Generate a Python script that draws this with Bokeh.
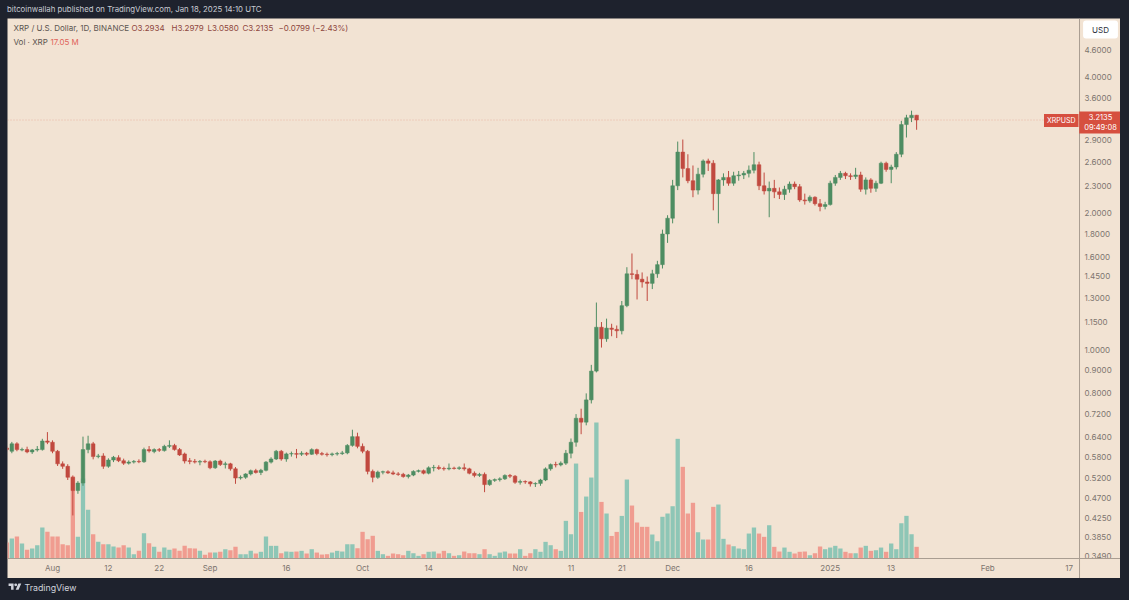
import pandas as pd
from bokeh.plotting import figure
from bokeh.models import (Range1d, FixedTicker, NumeralTickFormatter, Label, Span,
                          Div, Spacer, ColumnDataSource, LinearScale)
from bokeh.layouts import column, row
from bokeh.embed import file_html
from bokeh.resources import INLINE

# ---------------- data (XRP / USD daily) ----------------
dates = pd.date_range("2024-07-23", "2025-01-18", freq="D")

open_ = [
    # Jul 23-31
    0.606, 0.596, 0.619, 0.600, 0.601, 0.594, 0.600, 0.601, 0.628,
    # Aug
    0.624, 0.596, 0.559, 0.552, 0.522, 0.488, 0.507, 0.601, 0.619, 0.580,
    0.582, 0.552, 0.570, 0.577, 0.568, 0.561, 0.564, 0.566, 0.565, 0.601,
    0.595, 0.601, 0.598, 0.611, 0.614, 0.601, 0.588, 0.568, 0.566, 0.564, 0.566,
    # Sep
    0.565, 0.548, 0.567, 0.557, 0.559, 0.545, 0.520, 0.522, 0.531, 0.540,
    0.535, 0.541, 0.564, 0.573, 0.596, 0.573, 0.588, 0.589, 0.587, 0.590,
    0.587, 0.601, 0.589, 0.587, 0.586, 0.588, 0.589, 0.591, 0.614, 0.642,
    # Oct
    0.611, 0.596, 0.538, 0.522, 0.536, 0.537, 0.534, 0.531, 0.530, 0.524,
    0.528, 0.538, 0.540, 0.533, 0.548, 0.549, 0.546, 0.545, 0.547, 0.546,
    0.548, 0.545, 0.533, 0.527, 0.530, 0.503, 0.514, 0.516, 0.518, 0.527, 0.525,
    # Nov
    0.509, 0.511, 0.510, 0.505, 0.506, 0.515, 0.545, 0.557, 0.556, 0.561,
    0.590, 0.624, 0.705, 0.691, 0.774, 0.896, 1.120, 1.056, 1.115, 1.108,
    1.100, 1.250, 1.470, 1.465, 1.430, 1.410, 1.400, 1.470, 1.540, 1.800,
    # Dec
    1.950, 2.300, 2.730, 2.510, 2.360, 2.250, 2.440, 2.610, 2.580, 2.210,
    2.370, 2.400, 2.330, 2.420, 2.430, 2.450, 2.490, 2.560, 2.300, 2.240,
    2.270, 2.230, 2.200, 2.260, 2.320, 2.290, 2.140, 2.130, 2.170, 2.100, 2.070,
    # Jan 1-18
    2.090, 2.330, 2.400, 2.450, 2.420, 2.410, 2.430, 2.260, 2.370, 2.270,
    2.330, 2.580, 2.500, 2.530, 2.700, 3.140, 3.250, 3.2934,
]

high = [
    0.612, 0.625, 0.624, 0.607, 0.610, 0.603, 0.612, 0.635, 0.657,
    0.630, 0.600, 0.566, 0.558, 0.527, 0.512, 0.642, 0.645, 0.625, 0.588,
    0.590, 0.575, 0.582, 0.584, 0.574, 0.569, 0.570, 0.572, 0.607, 0.612,
    0.605, 0.606, 0.616, 0.630, 0.619, 0.606, 0.592, 0.576, 0.573, 0.570, 0.571,
    0.569, 0.570, 0.571, 0.565, 0.562, 0.550, 0.527, 0.533, 0.543, 0.545,
    0.545, 0.567, 0.578, 0.600, 0.600, 0.592, 0.595, 0.603, 0.596, 0.594,
    0.605, 0.604, 0.594, 0.592, 0.592, 0.594, 0.597, 0.618, 0.665, 0.655,
    0.620, 0.600, 0.543, 0.540, 0.540, 0.541, 0.540, 0.536, 0.534, 0.531,
    0.541, 0.543, 0.543, 0.552, 0.556, 0.555, 0.551, 0.560, 0.551, 0.552,
    0.560, 0.548, 0.538, 0.534, 0.535, 0.517, 0.519, 0.522, 0.530, 0.531, 0.528,
    0.516, 0.514, 0.512, 0.509, 0.518, 0.549, 0.560, 0.565, 0.566, 0.600,
    0.636, 0.720, 0.740, 0.800, 0.925, 1.270, 1.150, 1.170, 1.140, 1.130,
    1.280, 1.520, 1.630, 1.500, 1.480, 1.450, 1.500, 1.570, 1.840, 1.980,
    2.370, 2.880, 2.910, 2.700, 2.550, 2.520, 2.630, 2.640, 2.620, 2.380,
    2.450, 2.480, 2.470, 2.480, 2.480, 2.550, 2.730, 2.600, 2.460, 2.350,
    2.370, 2.280, 2.300, 2.350, 2.350, 2.320, 2.210, 2.190, 2.180, 2.150, 2.120,
    2.360, 2.430, 2.480, 2.470, 2.450, 2.520, 2.470, 2.400, 2.390, 2.360,
    2.600, 2.600, 2.560, 2.730, 3.200, 3.300, 3.370, 3.2979,
]

low = [
    0.596, 0.590, 0.596, 0.596, 0.590, 0.588, 0.595, 0.598, 0.618,
    0.590, 0.553, 0.545, 0.515, 0.430, 0.480, 0.500, 0.590, 0.572, 0.575,
    0.545, 0.548, 0.564, 0.564, 0.556, 0.557, 0.560, 0.561, 0.562, 0.592,
    0.590, 0.594, 0.595, 0.606, 0.598, 0.582, 0.560, 0.558, 0.560, 0.555, 0.561,
    0.544, 0.545, 0.553, 0.546, 0.540, 0.505, 0.516, 0.518, 0.527, 0.532,
    0.528, 0.538, 0.560, 0.570, 0.568, 0.565, 0.580, 0.575, 0.582, 0.582,
    0.585, 0.584, 0.583, 0.580, 0.581, 0.583, 0.585, 0.587, 0.610, 0.605,
    0.590, 0.530, 0.509, 0.518, 0.530, 0.531, 0.528, 0.526, 0.521, 0.519,
    0.525, 0.535, 0.530, 0.530, 0.538, 0.542, 0.540, 0.541, 0.543, 0.542,
    0.540, 0.530, 0.522, 0.523, 0.484, 0.500, 0.510, 0.511, 0.515, 0.520, 0.505,
    0.503, 0.505, 0.498, 0.497, 0.500, 0.512, 0.540, 0.549, 0.552, 0.556,
    0.575, 0.610, 0.650, 0.680, 0.760, 0.890, 1.010, 1.040, 1.070, 1.060,
    1.080, 1.240, 1.430, 1.290, 1.370, 1.280, 1.360, 1.440, 1.510, 1.720,
    1.900, 2.250, 2.400, 2.330, 2.170, 2.200, 2.400, 2.480, 2.030, 1.900,
    2.300, 2.300, 2.300, 2.360, 2.380, 2.400, 2.450, 2.250, 2.200, 1.960,
    2.160, 2.150, 2.140, 2.220, 2.260, 2.120, 2.090, 2.110, 2.080, 2.020, 2.040,
    2.080, 2.300, 2.370, 2.380, 2.370, 2.380, 2.230, 2.200, 2.220, 2.230,
    2.320, 2.470, 2.330, 2.500, 2.660, 2.940, 3.180, 3.0580,
]

close = [
    0.601, 0.619, 0.601, 0.601, 0.594, 0.600, 0.602, 0.628, 0.624,
    0.596, 0.559, 0.552, 0.522, 0.488, 0.507, 0.601, 0.619, 0.580, 0.582,
    0.552, 0.570, 0.578, 0.568, 0.561, 0.564, 0.566, 0.565, 0.601, 0.597,
    0.601, 0.599, 0.611, 0.614, 0.601, 0.585, 0.567, 0.566, 0.564, 0.566, 0.565,
    0.548, 0.567, 0.557, 0.559, 0.545, 0.520, 0.522, 0.531, 0.540, 0.535,
    0.541, 0.564, 0.573, 0.596, 0.573, 0.588, 0.589, 0.587, 0.590, 0.587,
    0.601, 0.589, 0.587, 0.586, 0.588, 0.589, 0.591, 0.614, 0.642, 0.611,
    0.596, 0.538, 0.522, 0.536, 0.537, 0.534, 0.531, 0.530, 0.524, 0.528,
    0.538, 0.540, 0.533, 0.548, 0.549, 0.546, 0.545, 0.547, 0.546, 0.548,
    0.545, 0.533, 0.527, 0.530, 0.503, 0.514, 0.516, 0.518, 0.527, 0.525, 0.509,
    0.511, 0.510, 0.505, 0.506, 0.515, 0.545, 0.557, 0.556, 0.561, 0.590,
    0.624, 0.705, 0.691, 0.774, 0.896, 1.120, 1.056, 1.115, 1.108, 1.100,
    1.250, 1.470, 1.465, 1.430, 1.410, 1.400, 1.470, 1.540, 1.800, 1.950,
    2.300, 2.730, 2.510, 2.360, 2.250, 2.440, 2.610, 2.580, 2.210, 2.370,
    2.400, 2.330, 2.420, 2.430, 2.450, 2.490, 2.560, 2.300, 2.240, 2.270,
    2.230, 2.200, 2.260, 2.320, 2.290, 2.140, 2.130, 2.170, 2.100, 2.070, 2.090,
    2.330, 2.400, 2.450, 2.420, 2.410, 2.430, 2.260, 2.370, 2.270, 2.330,
    2.580, 2.500, 2.530, 2.700, 3.140, 3.250, 3.2934, 3.2135,
]

volume_m = [
    23.3, 29.1, 32.1, 21.9, 12.7, 14.6, 19.4, 45.2, 38.9,
    32.1, 32.1, 20.8, 19.4, 119.5, 31.6, 116.6, 71.0, 35.4, 24.3,
    20.8, 20.8, 17.5, 16.0, 19.4, 16.0, 6.3, 11.2, 36.9, 22.3,
    17.0, 9.8, 16.0, 12.7, 14.6, 11.2, 18.5, 15.0, 14.6, 11.2, 5.4,
    8.7, 8.7, 9.8, 13.6, 12.1, 17.0, 6.3, 6.3, 11.2, 7.3,
    9.8, 32.1, 18.5, 18.5, 7.7, 10.2, 9.8, 10.2, 11.2, 7.3,
    13.6, 8.7, 5.8, 6.3, 8.7, 11.2, 10.2, 20.8, 20.8, 15.0,
    38.9, 28.1, 33.1, 11.2, 6.3, 3.9, 7.3, 6.3, 4.8, 11.2,
    7.7, 3.9, 6.3, 9.8, 10.2, 7.3, 11.2, 7.7, 3.9, 4.8,
    10.2, 7.7, 7.7, 6.3, 13.6, 6.3, 3.9, 8.7, 10.2, 7.3, 7.3,
    13.6, 3.9, 7.7, 13.6, 9.8, 24.3, 19.4, 13.6, 11.2, 54.9,
    35.4, 138.4, 67.9, 90.3, 118.0, 198.2, 82.5, 65.6, 32.9, 38.8,
    62.1, 115.1, 77.2, 52.5, 46.2, 46.2, 35.0, 25.2, 60.8, 65.6,
    76.2, 174.4, 133.6, 65.6, 81.2, 38.3, 27.7, 27.7, 75.3, 78.7,
    28.7, 20.4, 17.9, 14.6, 13.6, 36.4, 45.2, 36.4, 31.6, 48.5,
    17.0, 10.2, 16.0, 9.8, 7.3, 9.8, 10.2, 4.8, 7.7, 17.5, 13.6,
    16.0, 18.5, 14.6, 9.8, 7.7, 7.7, 16.0, 18.5, 11.2, 12.1,
    16.0, 9.8, 21.9, 13.6, 51.4, 62.2, 35.4, 17.05,
]

time_tick_dates = ["2024-08-01", "2024-08-12", "2024-08-22", "2024-09-01", "2024-09-16",
                   "2024-10-01", "2024-10-14", "2024-11-01", "2024-11-11", "2024-11-21",
                   "2024-12-01", "2024-12-16", "2025-01-01", "2025-01-13", "2025-02-01",
                   "2025-02-17"]
time_tick_labels = ["Aug", "12", "22", "Sep", "16", "Oct", "14", "Nov", "11", "21",
                    "Dec", "16", "2025", "13", "Feb", "17"]
price_ticks = [0.349, 0.385, 0.425, 0.47, 0.52, 0.58, 0.64, 0.72, 0.8, 0.9, 1.0,
               1.15, 1.3, 1.45, 1.6, 1.8, 2.0, 2.3, 2.6, 2.9, 3.6, 4.0, 4.6]
last_price = 3.2135

# ---------------- styling / layout ----------------
BG = "#f2e3d3"
FRAME = "#1e222d"
UP = "#4e8d62"
DOWN = "#c1493f"
VOL_UP = "#8ec6b6"
VOL_DOWN = "#f09c90"
TAG = "#d64f3f"
AXIS_TXT = "#7d756f"
SEP = "#a99d91"
FONT = "Inter"

X_LEFT, X_RIGHT = -8.853, 210.11        # whole light panel (days from Aug 1)
PRICE_AXIS_AT = 202.05                  # where the price scale begins
Y_BOTTOM, Y_TOP = 0.3120, 5.386         # whole light panel (log price)
TIME_AXIS_AT = 0.3454                   # where the time scale begins

origin = pd.Timestamp("2024-08-01")
day = [(d - origin).days for d in dates]
up = [c >= o for o, c in zip(open_, close)]
src = ColumnDataSource(dict(
    x=day, open=open_, high=high, low=low, close=close, vol=volume_m,
    top=[max(o, c) for o, c in zip(open_, close)],
    bottom=[min(o, c) for o, c in zip(open_, close)],
    color=[UP if u else DOWN for u in up],
    vcolor=[VOL_UP if u else VOL_DOWN for u in up],
))

p = figure(width=1113, height=560, y_axis_type="log", y_axis_location="right",
           x_range=Range1d(X_LEFT, X_RIGHT), y_range=Range1d(Y_BOTTOM, Y_TOP),
           output_backend="svg", toolbar_location=None,
           background_fill_color=BG, border_fill_color=FRAME, outline_line_color=None)
p.min_border = 0
p.extra_y_ranges = {"vol": Range1d(-29.1, 786.8)}
p.extra_y_scales = {"vol": LinearScale()}
p.grid.visible = False

# volume
p.vbar(x="x", top="vol", bottom=0, width=0.85, y_range_name="vol",
       fill_color="vcolor", line_color=None, source=src)
# candles
p.segment(x0="x", y0="low", x1="x", y1="high", line_color="color", line_width=1, source=src)
p.vbar(x="x", top="top", bottom="bottom", width=0.72, fill_color="color",
       line_color="color", line_width=0.5, source=src)

# separators between chart, price scale and time scale
p.add_layout(Span(location=PRICE_AXIS_AT, dimension="height", line_color=SEP, line_width=1))
p.add_layout(Span(location=TIME_AXIS_AT, dimension="width", line_color=SEP, line_width=1))
# last price line
p.add_layout(Span(location=last_price, dimension="width", line_color=TAG,
                  line_alpha=0.3, line_dash="1 2", line_width=1))

# axes (drawn inside the light panel)
yax = p.yaxis[0]
yax.fixed_location = PRICE_AXIS_AT
yax.ticker = FixedTicker(ticks=price_ticks)
yax.formatter = NumeralTickFormatter(format="0.0000")
yax.major_tick_line_color = None
yax.minor_tick_line_color = None
yax.major_tick_out = 0
yax.axis_line_color = None
yax.major_label_standoff = 5
yax.major_label_text_font = FONT
yax.major_label_text_font_size = "8px"
yax.major_label_text_color = AXIS_TXT

tick_days = [(pd.Timestamp(t) - origin).days for t in time_tick_dates]
xax = p.xaxis[0]
xax.fixed_location = TIME_AXIS_AT
xax.ticker = FixedTicker(ticks=tick_days)
xax.major_label_overrides = {d: lab for d, lab in zip(tick_days, time_tick_labels)}
xax.major_tick_line_color = None
xax.minor_tick_line_color = None
xax.major_tick_out = 0
xax.axis_line_color = None
xax.major_label_standoff = 4
xax.major_label_text_font = FONT
xax.major_label_text_font_size = "8px"
xax.major_label_text_color = AXIS_TXT

def lab(x, y, text, color, size="8px", **kw):
    p.add_layout(Label(x=x, y=y, x_units="screen", y_units="screen", text=text,
                       text_color=color, text_font=FONT, text_font_size=size,
                       text_baseline="middle", **kw))

# legend texts (top-left)
lab(6, 551, "XRP / U.S. Dollar, 1D, BINANCE", "#5b5550")
for xx, t in zip([124, 164, 200, 235, 271],
                 ["O3.2934", "H3.2979", "L3.0580", "C3.2135", "\u22120.0799 (\u22122.43%)"]):
    lab(xx, 551, t, "#8e463d")
lab(6, 537, "Vol \u00b7 XRP", "#5b5550")
lab(43, 537, "17.05 M", "#e0635a")

# price tags on the right
lab(1071, 458, "XRPUSD", "white", size="7px", text_align="right",
    background_fill_color=TAG, padding=(3, 2))
lab(1093, 456, "3.2135\n09:49:08", "white", size="7.5px", text_align="center",
    background_fill_color=TAG, padding=(5, 1))
lab(1093, 549, "USD", "#2a2e39", size="8px", text_align="center",
    background_fill_color="white", padding=(9, 4), border_radius=3)

header = Div(text="bitcoinwallah published on TradingView.com, Jan 18, 2025 14:10 UTC",
             width=1122, height=18, margin=(0, 0, 0, 0),
             styles={"color": "#c8cbd3", "font-size": "7.8px", "font-family": "Inter, sans-serif",
                     "line-height": "19px"})
logo = ('<svg width="14" height="10" viewBox="0 0 36 28" style="vertical-align:-1px">'
        '<path d="M14 22H7V11H0V4h14v18zM28 22h-8l7.5-18h8L28 22z" fill="#d1d4dc"/>'
        '<circle cx="20" cy="8" r="4" fill="#d1d4dc"/></svg>')
footer = Div(text=logo + '&nbsp;<span>TradingView</span>', width=1121, height=22,
             margin=(0, 0, 0, 0),
             styles={"color": "#d1d4dc", "font-size": "8.8px", "font-family": "Inter, sans-serif",
                     "line-height": "20px"})

root = column(
    row(Spacer(width=7, height=18), header),
    row(Spacer(width=7, height=560), p, Spacer(width=9, height=560)),
    row(Spacer(width=8, height=22), footer),
    styles={"background-color": FRAME},
)

open("out.html", "w").write(file_html(root, INLINE))
